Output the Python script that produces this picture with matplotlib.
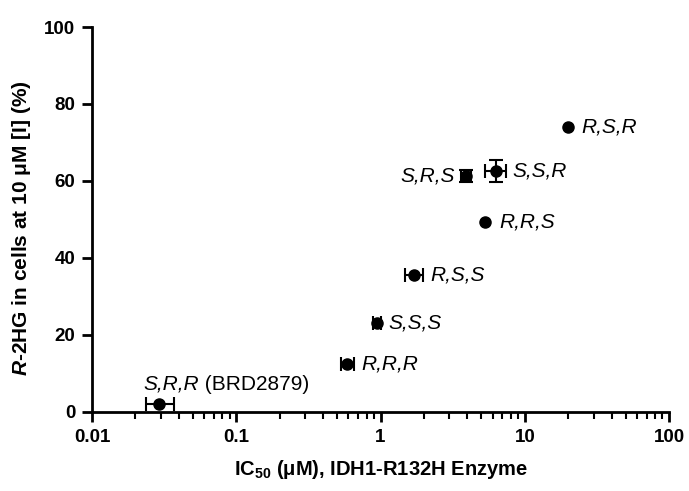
import matplotlib
matplotlib.use("Agg")
import matplotlib.pyplot as plt
import numpy as np
from matplotlib.ticker import LogLocator, FixedLocator, NullFormatter

plt.rcParams['font.family'] = ['Liberation Sans', 'DejaVu Sans']
plt.rcParams['mathtext.fontset'] = 'custom'
plt.rcParams['mathtext.rm'] = 'Liberation Sans'
plt.rcParams['mathtext.it'] = 'Liberation Sans:italic'
plt.rcParams['mathtext.bf'] = 'Liberation Sans:bold'
plt.rcParams['mathtext.bfit'] = 'Liberation Sans:italic:bold'

# stereoisomers: enzyme IC50 vs cellular R-2HG (nan = no error bar)
isomers = ['S,R,R', 'R,R,R', 'S,S,S', 'R,S,S', 'R,R,S', 'S,R,S', 'S,S,R', 'R,S,R']
ic50 = [0.029, 0.59, 0.95, 1.70, 5.3, 3.9, 6.3, 19.8]
ic50_lo = [0.0235, 0.53, 0.89, 1.47, np.nan, 3.6, 5.3, np.nan]
ic50_hi = [0.037, 0.66, 1.01, 1.97, np.nan, 4.25, 7.4, np.nan]
r2hg = [2.1, 12.5, 23.1, 35.6, 49.4, 61.3, 62.6, 74.0]
r2hg_err = [np.nan, np.nan, np.nan, np.nan, np.nan, 1.6, 2.8, np.nan]

LABEL_SIZE = 15

fig = plt.figure(figsize=(6.89, 4.91), dpi=100)
ax = fig.add_axes([0.1335, 0.161, 0.8375, 0.784])

x = np.array(ic50)
xerr = [x - np.array(ic50_lo), np.array(ic50_hi) - x]
ax.errorbar(ic50, r2hg, xerr=xerr, yerr=r2hg_err, fmt='none', ecolor='black',
            elinewidth=1.5, capsize=5, capthick=1.5, zorder=2)
ax.plot(ic50, r2hg, 'o', color='black', markersize=8, zorder=3)

# point labels: placed just past the error bar cap, or past the marker
for name, px, hi, lo, py in zip(isomers, ic50, ic50_hi, ic50_lo, r2hg):
    if name == 'S,R,R':
        t = ax.annotate(name, (px, py), xytext=(-11, 10), textcoords='offset points',
                        ha='left', va='baseline', fontsize=LABEL_SIZE, style='italic')
        ax.annotate(' (BRD2879)', xy=(1, 0), xycoords=t, ha='left', va='bottom',
                    fontsize=LABEL_SIZE)
    elif name == 'S,R,S':
        ax.annotate(name, (lo, py), xytext=(-4, 0), textcoords='offset points',
                    ha='right', va='center', fontsize=LABEL_SIZE, style='italic')
    elif np.isnan(hi):
        ax.annotate(name, (px, py), xytext=(10, 0), textcoords='offset points',
                    ha='left', va='center', fontsize=LABEL_SIZE, style='italic')
    else:
        ax.annotate(name, (hi, py), xytext=(5, 0), textcoords='offset points',
                    ha='left', va='center', fontsize=LABEL_SIZE, style='italic')

ax.set_xscale('log')
ax.set_xlim(0.01, 100)
ax.set_ylim(0, 100)
ax.xaxis.set_major_locator(FixedLocator([0.01, 0.1, 1, 10, 100]))
ax.xaxis.set_minor_locator(LogLocator(base=10, subs=range(2, 10)))
ax.xaxis.set_minor_formatter(NullFormatter())
ax.set_xticklabels(['0.01', '0.1', '1', '10', '100'])
ax.set_yticks([0, 20, 40, 60, 80, 100])

for side in ['top', 'right']:
    ax.spines[side].set_visible(False)
for side in ['left', 'bottom']:
    ax.spines[side].set_linewidth(2)

ax.tick_params(which='major', length=7, width=2, labelsize=13.5, pad=5)
ax.tick_params(which='minor', length=5, width=1.5)
for lab in ax.get_xticklabels() + ax.get_yticklabels():
    lab.set_fontweight('bold')

ax.set_xlabel(r'IC$_{\mathbf{50}}$ ($\mathbf{\mu}$M), IDH1-R132H Enzyme',
              fontsize=14.5, fontweight='bold', labelpad=9)
ax.set_ylabel(r'$\mathbfit{R}$-2HG in cells at 10 $\mathbf{\mu}$M [I] (%)',
              fontsize=15, fontweight='bold')
ax.yaxis.set_label_coords(-0.103, 0.478)

fig.savefig('out.png', dpi=100)
